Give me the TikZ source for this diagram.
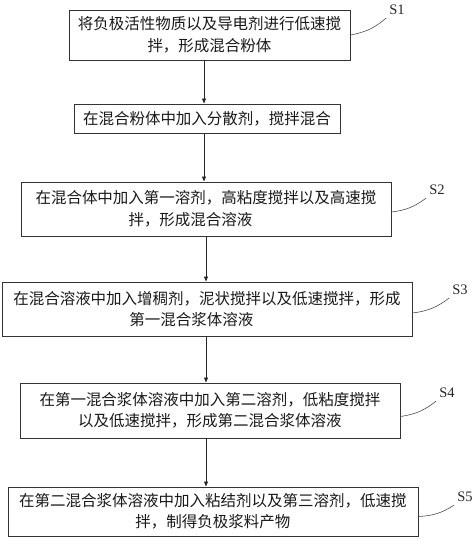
\documentclass[tikz,border=0pt]{standalone}
\usepackage{fontspec}
\newfontfamily\cjk{Noto Sans CJK SC}
\newfontfamily\lab{Liberation Serif}
\usetikzlibrary{arrows.meta}
\begin{document}
\begin{tikzpicture}[x=1pt,y=-1pt,
  stepbox/.style={draw=black!80,line width=0.9pt,rectangle,align=center,inner sep=0pt,
    font=\cjk\fontsize{15.5}{21.5}\selectfont,text=black!90},
  arr/.style={draw=black!85,line width=0.8pt,-{Triangle[length=5pt,width=4pt]}},
  steplab/.style={font=\lab\fontsize{14.5}{16}\selectfont,inner sep=1pt,text=black!85},
  leader/.style={draw=black!70,line width=0.6pt}]
\useasboundingbox (0,0) rectangle (474,539);
\node[stepbox,minimum width=281pt,minimum height=50pt] (b1) at (209.5,35)
  {将负极活性物质以及导电剂进行低速搅\\拌，形成混合粉体};
\node[stepbox,minimum width=266pt,minimum height=29pt] (b2) at (207,118.5)
  {在混合粉体中加入分散剂，搅拌混合};
\node[stepbox,minimum width=370pt,minimum height=54pt] (b3) at (206,209)
  {在混合体中加入第一溶剂，高粘度搅拌以及高速搅\\拌，形成混合溶液\hspace*{2em}};
\node[stepbox,minimum width=410pt,minimum height=54pt] (b4) at (207,309)
  {在混合溶液中加入增稠剂，泥状搅拌以及低速搅拌，形成\\第一混合浆体溶液\hspace*{2em}};
\node[stepbox,minimum width=380pt,minimum height=55pt] (b5) at (210,410.5)
  {在第一混合浆体溶液中加入第二溶剂，低粘度搅拌\\以及低速搅拌，形成第二混合浆体溶液};
\node[stepbox,minimum width=410pt,minimum height=49pt] (b6) at (213,511.5)
  {在第二混合浆体溶液中加入粘结剂以及第三溶剂，低速搅\\拌，制得负极浆料产物};
\coordinate (xa) at (204,0);
\coordinate (xb) at (206,0);
\draw[arr] (b1.south -| xa) -- (b2.north -| xa);
\draw[arr] (b2.south -| xa) -- (b3.north -| xa);
\draw[arr] (b3.south -| xb) -- (b4.north -| xb);
\draw[arr] (b4.south -| xb) -- (b5.north -| xb);
\draw[arr] (b5.south -| xb) -- (b6.north -| xb);
\node[steplab] (s1) at (397,10) {S1};
\node[steplab] (s2) at (437,190) {S2};
\node[steplab] (s3) at (460,290) {S3};
\node[steplab] (s4) at (447,393) {S4};
\node[steplab] (s5) at (465,497) {S5};
\draw[leader] (b1.east) to[bend right=15] ([xshift=-2pt,yshift=-2pt]s1.south west);
\draw[leader] ([yshift=-3pt]b3.east) to[bend right=15] ([xshift=-2pt,yshift=-2pt]s2.south west);
\draw[leader] ([yshift=-4pt]b4.east) to[bend right=15] ([xshift=-2pt,yshift=-2pt]s3.south west);
\draw[leader] ([yshift=-6pt]b5.east) to[bend right=15] ([xshift=-2pt,yshift=-2pt]s4.south west);
\draw[leader] ([yshift=-5pt]b6.east) to[bend right=15] ([xshift=-2pt,yshift=-2pt]s5.south west);
\end{tikzpicture}
\end{document}
